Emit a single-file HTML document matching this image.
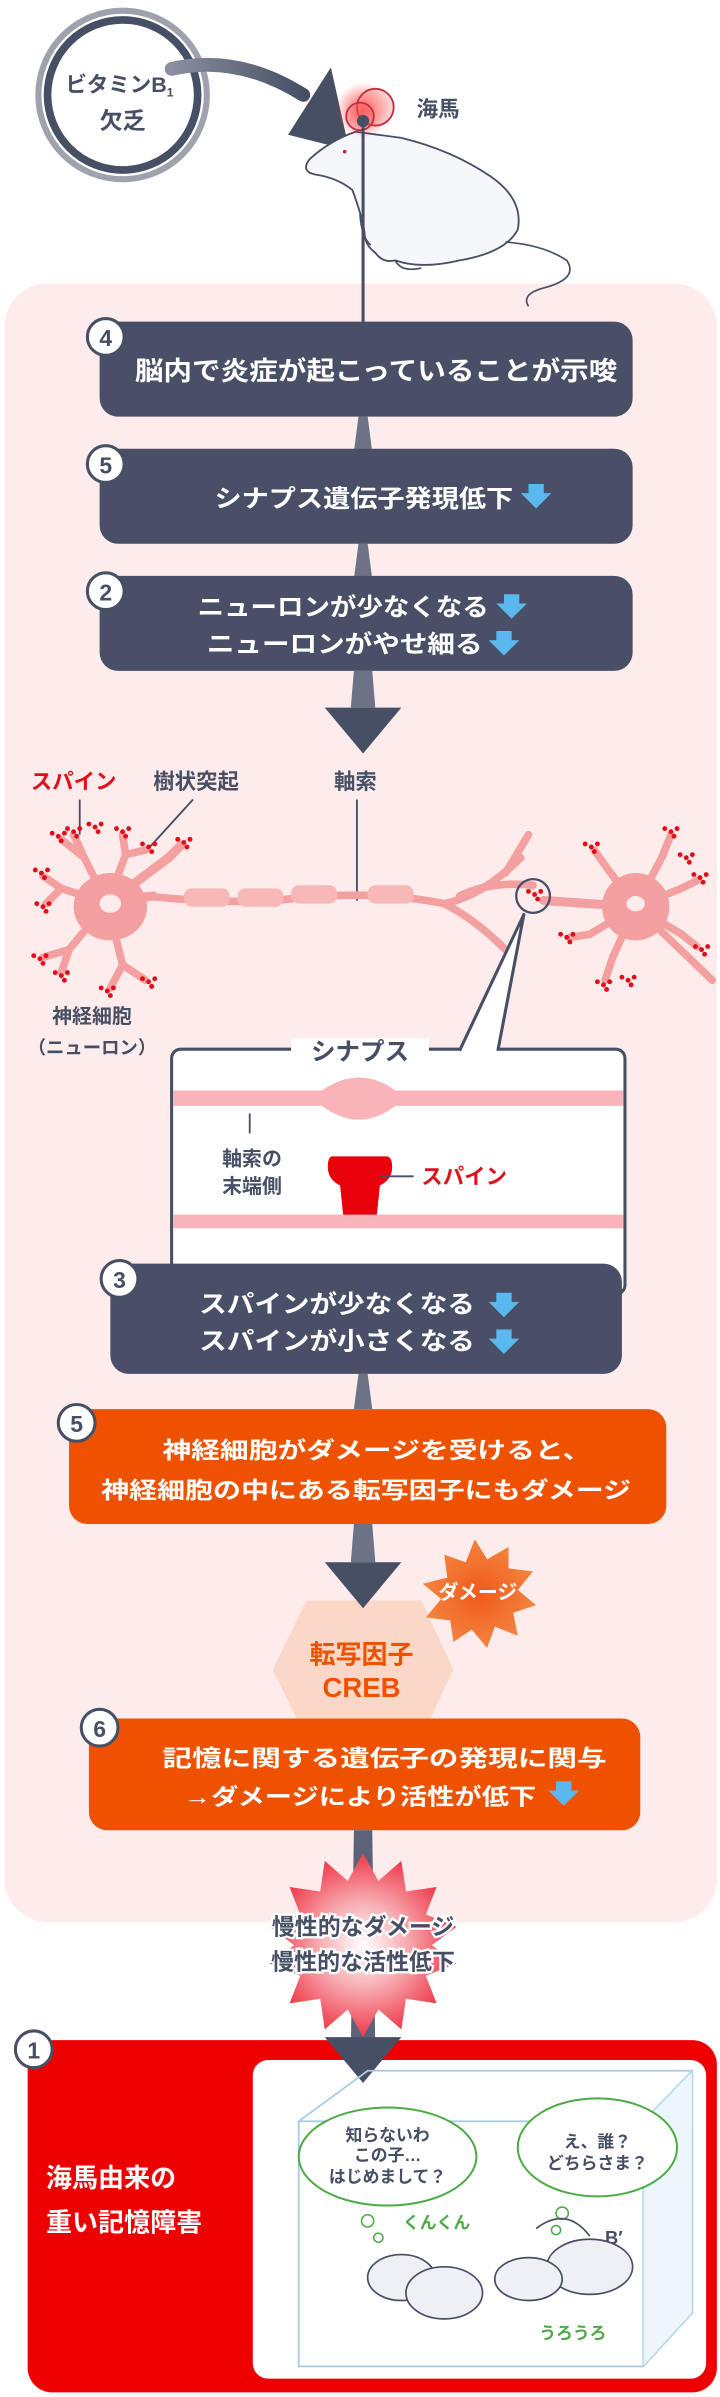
<!DOCTYPE html>
<html><head><meta charset="utf-8">
<style>
html,body{margin:0;padding:0;background:#fff;}
svg{display:block;}
text{font-family:"Liberation Sans","Noto Sans CJK JP",sans-serif;font-weight:bold;}
</style></head>
<body>
<svg width="720" height="2397" viewBox="0 0 470 1565" xmlns="http://www.w3.org/2000/svg">
<defs>
<radialGradient id="glow"><stop offset="0" stop-color="#ff3030" stop-opacity="0.9"/><stop offset="1" stop-color="#ff3030" stop-opacity="0"/></radialGradient>
<linearGradient id="arrg" x1="0" x2="1"><stop offset="0" stop-color="#8a8fa0"/><stop offset="1" stop-color="#474f65"/></linearGradient>
<radialGradient id="burst"><stop offset="0" stop-color="#fff"/><stop offset="0.45" stop-color="#f7b0b5"/><stop offset="1" stop-color="#ef3a4a"/></radialGradient>
<radialGradient id="dmg"><stop offset="0" stop-color="#f05a1a"/><stop offset="1" stop-color="#f3843f"/></radialGradient>
<g id="ba"><polygon points="-5,-7 5,-7 5,-1 10,-1 0,9 -10,-1 -5,-1" fill="#5bb8ee"/></g>
<g id="sp"><circle cx="0" cy="0" r="1.6" fill="#e0101a"/><circle cx="4" cy="-2" r="1.6" fill="#e0101a"/><circle cx="-4" cy="-2" r="1.6" fill="#e0101a"/><circle cx="2" cy="3" r="1.6" fill="#e0101a"/></g>
</defs>

<rect x="3" y="185" width="465" height="1070" rx="28" fill="#fdeceb"/>

<!-- vitamin circle -->
<circle cx="80" cy="62" r="55" fill="#fff" stroke="#9ea2ad" stroke-width="4"/>
<circle cx="80" cy="62" r="49" fill="#fff" stroke="#474f65" stroke-width="5"/>
<text x="78" y="60" font-size="14" fill="#474f65" text-anchor="middle">ビタミンB<tspan font-size="8" dy="3">1</tspan></text>
<text x="80" y="84" font-size="15" fill="#474f65" text-anchor="middle">欠乏</text>
<path d="M112 45 Q155 35 198 62" stroke="url(#arrg)" stroke-width="9" fill="none" stroke-linecap="round"/>
<polygon points="216,44 228,98 188,88" fill="#474f65"/>

<!-- mouse -->
<path d="M232 86 Q215 92 202 104 Q196 112 206 114 Q220 116 230 124 Q236 140 238 152 Q238 160 245 165 Q250 172 258 170 Q275 176 300 170 Q330 165 338 150 Q342 130 320 115 Q295 98 262 90 Z" fill="#f6f7fb" stroke="#474f65" stroke-width="1.2"/>
<path d="M235 140 Q236 155 242 160" fill="none" stroke="#474f65" stroke-width="1.1"/>
<path d="M258 170 Q262 178 275 175" fill="none" stroke="#474f65" stroke-width="1.1"/>
<path d="M330 158 Q355 160 370 170 Q378 182 355 188 Q340 192 345 200" fill="none" stroke="#474f65" stroke-width="1.1"/>
<circle cx="237" cy="72" r="18" fill="url(#glow)"/>
<circle cx="245" cy="70" r="12" fill="#ff8080" fill-opacity=".35" stroke="#c03040" stroke-width="1.2"/>
<circle cx="235" cy="76" r="9" fill="#ff6b6b" fill-opacity=".35" stroke="#c03040" stroke-width="1.2"/>
<circle cx="225" cy="99" r="1.2" fill="#c03040"/>
<circle cx="237" cy="79" r="4" fill="#474f65"/>
<line x1="237" y1="79" x2="237" y2="212" stroke="#474f65" stroke-width="2"/>
<text x="272" y="76" font-size="14" fill="#474f65">海馬</text>

<!-- connectors -->
<polygon points="234,272 240,272 243,295 231,295" fill="#6d7386"/>
<polygon points="234,355 240,355 243,378 231,378" fill="#6d7386"/>
<polygon points="231,438 243,438 245,462 229,462" fill="#6d7386"/>
<polygon points="212,462 262,462 237,492" fill="#474f65"/>

<!-- box 4 -->
<rect x="65" y="210" width="348" height="62" rx="12" fill="#484f66"/>
<circle cx="69" cy="220" r="12" fill="#fff" stroke="#474f65" stroke-width="2"/>
<text x="69" y="226" font-size="15" fill="#474f65" text-anchor="middle">4</text>
<text x="88" y="248" font-size="17" fill="#fff" textLength="315" lengthAdjust="spacingAndGlyphs">脳内で炎症が起こっていることが示唆</text>

<!-- box 5 -->
<rect x="65" y="293" width="348" height="62" rx="12" fill="#484f66"/>
<circle cx="69" cy="303" r="12" fill="#fff" stroke="#474f65" stroke-width="2"/>
<text x="69" y="309" font-size="15" fill="#474f65" text-anchor="middle">5</text>
<text x="140" y="331" font-size="16" fill="#fff" textLength="195" lengthAdjust="spacingAndGlyphs">シナプス遺伝子発現低下</text>
<use href="#ba" x="350" y="323"/>

<!-- box 2 -->
<rect x="65" y="376" width="348" height="62" rx="12" fill="#484f66"/>
<circle cx="69" cy="386" r="12" fill="#fff" stroke="#474f65" stroke-width="2"/>
<text x="69" y="392" font-size="15" fill="#474f65" text-anchor="middle">2</text>
<text x="129" y="402" font-size="16" fill="#fff" textLength="190" lengthAdjust="spacingAndGlyphs">ニューロンが少なくなる</text>
<text x="135" y="426" font-size="16" fill="#fff" textLength="180" lengthAdjust="spacingAndGlyphs">ニューロンがやせ細る</text>
<use href="#ba" x="334" y="395"/>
<use href="#ba" x="329" y="419"/>

<!-- neuron labels -->
<text x="20" y="515" font-size="14" fill="#e0101a">スパイン</text>
<text x="100" y="515" font-size="14" fill="#474f65">樹状突起</text>
<text x="218" y="515" font-size="14" fill="#474f65">軸索</text>
<line x1="52" y1="522" x2="52" y2="545" stroke="#474f65" stroke-width="1.2"/>
<line x1="126" y1="522" x2="95" y2="556" stroke="#474f65" stroke-width="1.2"/>
<line x1="233" y1="522" x2="233" y2="588" stroke="#474f65" stroke-width="1.2"/>

<!-- left neuron -->
<g stroke="#f4a0a0" stroke-linecap="round" fill="none">
<path d="M70 590 L55 560 L48 545 M55 560 L40 548 M70 590 L82 558 L80 545 M82 558 L95 555 M70 590 L40 580 L28 572 M40 580 L30 590 M70 590 L45 620 L28 625 M45 620 L40 635 M70 590 L80 630 L72 645 M80 630 L95 640" stroke-width="5"/>
<path d="M70 590 L110 560 L118 552 M70 590 L100 585" stroke-width="6"/>
<path d="M95 585 Q140 590 180 588 Q240 580 290 590 Q315 585 340 560 M290 590 Q310 600 330 620 M300 585 Q320 575 348 578 M330 570 L345 545" stroke-width="5"/>
</g>
<ellipse cx="72" cy="592" rx="24" ry="22" fill="#f4a0a0"/>
<ellipse cx="72" cy="590" rx="7" ry="6" fill="#fdeceb"/>
<g fill="#f8b8b8"><rect x="120" y="580" width="30" height="12" rx="5"/><rect x="155" y="580" width="30" height="12" rx="5"/><rect x="190" y="578" width="30" height="12" rx="5"/><rect x="240" y="578" width="30" height="12" rx="5"/></g>
<use href="#sp" x="48" y="543"/><use href="#sp" x="38" y="546"/><use href="#sp" x="80" y="543"/><use href="#sp" x="97" y="553"/>
<use href="#sp" x="27" y="570"/><use href="#sp" x="28" y="592"/><use href="#sp" x="26" y="626"/><use href="#sp" x="40" y="637"/>
<use href="#sp" x="70" y="647"/><use href="#sp" x="97" y="641"/><use href="#sp" x="120" y="550"/><use href="#sp" x="62" y="540"/>

<!-- right neuron -->
<g stroke="#f4a0a0" stroke-linecap="round" fill="none">
<path d="M415 592 L395 565 L388 555 M415 592 L432 560 L438 545 M415 592 L445 580 L455 575 M415 592 L445 610 L455 618 M415 592 L400 625 L395 640 M415 592 L385 610 L372 612 M415 592 L465 640" stroke-width="5"/>
<path d="M415 592 L355 588" stroke-width="6"/>
</g>
<ellipse cx="415" cy="592" rx="22" ry="22" fill="#f4a0a0"/>
<ellipse cx="415" cy="590" rx="6" ry="5" fill="#fdeceb"/>
<use href="#sp" x="386" y="553"/><use href="#sp" x="438" y="543"/><use href="#sp" x="457" y="573"/><use href="#sp" x="458" y="620"/>
<use href="#sp" x="394" y="643"/><use href="#sp" x="370" y="612"/><use href="#sp" x="410" y="640"/><use href="#sp" x="448" y="560"/>
<circle cx="348" cy="585" r="11" fill="none" stroke="#474f65" stroke-width="1.5"/>
<use href="#sp" x="349" y="584"/>

<text x="60" y="668" font-size="13" fill="#474f65" text-anchor="middle">神経細胞</text>
<text x="60" y="688" font-size="12" fill="#474f65" text-anchor="middle">（ニューロン）</text>

<!-- synapse box -->
<rect x="112" y="685" width="296" height="160" rx="6" fill="#fff" stroke="#474f65" stroke-width="2"/>
<path d="M300 686 L342 597 L325 686" fill="#fff" stroke="#474f65" stroke-width="2" stroke-linejoin="round"/>
<rect x="302" y="684" width="22" height="5" fill="#fff"/>
<rect x="190" y="678" width="90" height="14" fill="#fff"/>
<text x="235" y="692" font-size="16" fill="#474f65" text-anchor="middle">シナプス</text>
<path d="M113 712 H210 Q235 695 258 712 H407 V722 H258 Q235 740 210 722 H113 Z" fill="#f8b4b8"/>
<rect x="113" y="793" width="294" height="9" fill="#f8b4b8"/>
<path d="M217 755 H252 Q256 755 256 762 Q256 770 248 774 L246 793 H224 L222 774 Q214 770 214 762 Q214 755 217 755 Z" fill="#e8000a"/>
<line x1="163" y1="727" x2="163" y2="740" stroke="#474f65" stroke-width="1.2"/>
<text x="145" y="761" font-size="13" fill="#474f65">軸索の</text>
<text x="145" y="779" font-size="13" fill="#474f65">末端側</text>
<line x1="248" y1="768" x2="270" y2="768" stroke="#474f65" stroke-width="1.2"/>
<text x="275" y="773" font-size="14" fill="#e0101a">スパイン</text>

<!-- box 3 -->
<rect x="72" y="825" width="334" height="72" rx="12" fill="#484f66"/>
<circle cx="78" cy="835" r="12" fill="#fff" stroke="#474f65" stroke-width="2"/>
<text x="78" y="841" font-size="15" fill="#474f65" text-anchor="middle">3</text>
<text x="130" y="857" font-size="16" fill="#fff" textLength="180" lengthAdjust="spacingAndGlyphs">スパインが少なくなる</text>
<text x="130" y="881" font-size="16" fill="#fff" textLength="180" lengthAdjust="spacingAndGlyphs">スパインが小さくなる</text>
<use href="#ba" x="329" y="851"/>
<use href="#ba" x="329" y="875"/>
<polygon points="234,897 240,897 243,920 231,920" fill="#6d7386"/>

<!-- orange box 5 -->
<rect x="45" y="920" width="390" height="75" rx="12" fill="#ee5200"/>
<circle cx="50" cy="929" r="12" fill="#fff" stroke="#474f65" stroke-width="2"/>
<text x="50" y="935" font-size="15" fill="#474f65" text-anchor="middle">5</text>
<text x="106" y="952" font-size="15" fill="#fff" textLength="280" lengthAdjust="spacingAndGlyphs">神経細胞がダメージを受けると、</text>
<text x="66" y="978" font-size="15" fill="#fff" textLength="346" lengthAdjust="spacingAndGlyphs">神経細胞の中にある転写因子にもダメージ</text>

<!-- CREB -->
<polygon points="200,1045 275,1045 296,1090 275,1135 200,1135 178,1090" fill="#fbd7c8"/>
<polygon points="231,995 243,995 245,1020 229,1020" fill="#6d7386"/>
<polygon points="212,1020 262,1020 237,1050" fill="#474f65"/>
<polygon points="310,1005 318,1018 332,1010 332,1024 348,1026 338,1038 350,1048 335,1053 338,1068 323,1062 318,1076 308,1064 296,1072 294,1058 278,1056 288,1044 276,1034 292,1030 290,1015 304,1020" fill="url(#dmg)"/>
<text x="312" y="1044" font-size="13" fill="#fff" text-anchor="middle">ダメージ</text>
<text x="236" y="1086" font-size="17" fill="#ee5200" text-anchor="middle">転写因子</text>
<text x="236" y="1108" font-size="18" fill="#ee5200" text-anchor="middle">CREB</text>

<!-- orange box 6 -->
<rect x="58" y="1122" width="360" height="73" rx="12" fill="#ee5200"/>
<circle cx="65" cy="1128" r="12" fill="#fff" stroke="#474f65" stroke-width="2"/>
<text x="65" y="1134" font-size="15" fill="#474f65" text-anchor="middle">6</text>
<text x="106" y="1153" font-size="15" fill="#fff" textLength="290" lengthAdjust="spacingAndGlyphs">記憶に関する遺伝子の発現に関与</text>
<text x="120" y="1178" font-size="15" fill="#fff" textLength="230" lengthAdjust="spacingAndGlyphs">→ダメージにより活性が低下</text>
<use href="#ba" x="368" y="1170"/>

<!-- burst -->
<polygon points="231,1195 243,1195 245,1340 229,1340" fill="#5c6378"/>
<polygon points="237,1210 247,1228 262,1215 265,1235 285,1232 278,1250 298,1258 282,1270 298,1282 278,1290 285,1308 265,1305 262,1325 247,1312 237,1330 227,1312 212,1325 209,1305 189,1308 196,1290 176,1282 192,1270 176,1258 196,1250 189,1232 209,1235 212,1215 227,1228" fill="url(#burst)"/>
<text x="237" y="1263" font-size="15" fill="#474f65" text-anchor="middle" stroke="#fff" stroke-width="3" paint-order="stroke">慢性的なダメージ</text>
<text x="237" y="1286" font-size="15" fill="#474f65" text-anchor="middle" stroke="#fff" stroke-width="3" paint-order="stroke">慢性的な活性低下</text>

<!-- red box 1 -->
<rect x="18" y="1332" width="450" height="230" rx="16" fill="#ee0000"/>
<rect x="165" y="1345" width="296" height="208" rx="10" fill="#fff"/>
<polygon points="212,1330 262,1330 237,1360" fill="#474f65"/>
<circle cx="22" cy="1338" r="12" fill="#fff" stroke="#474f65" stroke-width="2"/>
<text x="22" y="1344" font-size="15" fill="#474f65" text-anchor="middle">1</text>
<text x="30" y="1428" font-size="17" fill="#fff">海馬由来の</text>
<text x="30" y="1457" font-size="17" fill="#fff">重い記憶障害</text>

<!-- cage -->
<g stroke="#a8cce8" stroke-width="1.2" fill="none">
<rect x="195" y="1385" width="225" height="160"/>
<polyline points="195,1385 240,1352 452,1352 452,1510 420,1545"/>
<line x1="420" y1="1385" x2="452" y2="1352"/>
</g>
<polygon points="420,1385 452,1352 452,1510 420,1545" fill="#e6f2fb" opacity=".7"/>
<ellipse cx="253" cy="1408" rx="58" ry="32" fill="#fff" stroke="#4caa44" stroke-width="1.3"/>
<circle cx="240" cy="1450" r="4" fill="#fff" stroke="#4caa44"/><circle cx="247" cy="1461" r="3" fill="#fff" stroke="#4caa44"/>
<text x="253" y="1398" font-size="11" fill="#474f65" text-anchor="middle">知らないわ</text>
<text x="253" y="1411" font-size="11" fill="#474f65" text-anchor="middle">この子…</text>
<text x="253" y="1425" font-size="11" fill="#474f65" text-anchor="middle">はじめまして？</text>
<ellipse cx="390" cy="1402" rx="52" ry="32" fill="#fff" stroke="#4caa44" stroke-width="1.3"/>
<circle cx="367" cy="1445" r="4" fill="#fff" stroke="#4caa44"/><circle cx="363" cy="1456" r="3" fill="#fff" stroke="#4caa44"/>
<text x="390" y="1402" font-size="11" fill="#474f65" text-anchor="middle">え、誰？</text>
<text x="390" y="1416" font-size="11" fill="#474f65" text-anchor="middle">どちらさま？</text>
<text x="263" y="1455" font-size="11" fill="#4caa44">くんくん</text>
<text x="352" y="1527" font-size="11" fill="#4caa44">うろうろ</text>
<text x="395" y="1465" font-size="12" fill="#474f65">B′</text>
<g fill="#eef0f6" stroke="#474f65" stroke-width="1.1">
<path d="M350 1455 Q370 1440 385 1460" fill="none"/>
<ellipse cx="262" cy="1487" rx="22" ry="15"/>
<ellipse cx="290" cy="1497" rx="25" ry="17"/>
<ellipse cx="385" cy="1480" rx="28" ry="18"/>
<ellipse cx="345" cy="1488" rx="22" ry="14"/>
</g>
</svg>
</body></html>
